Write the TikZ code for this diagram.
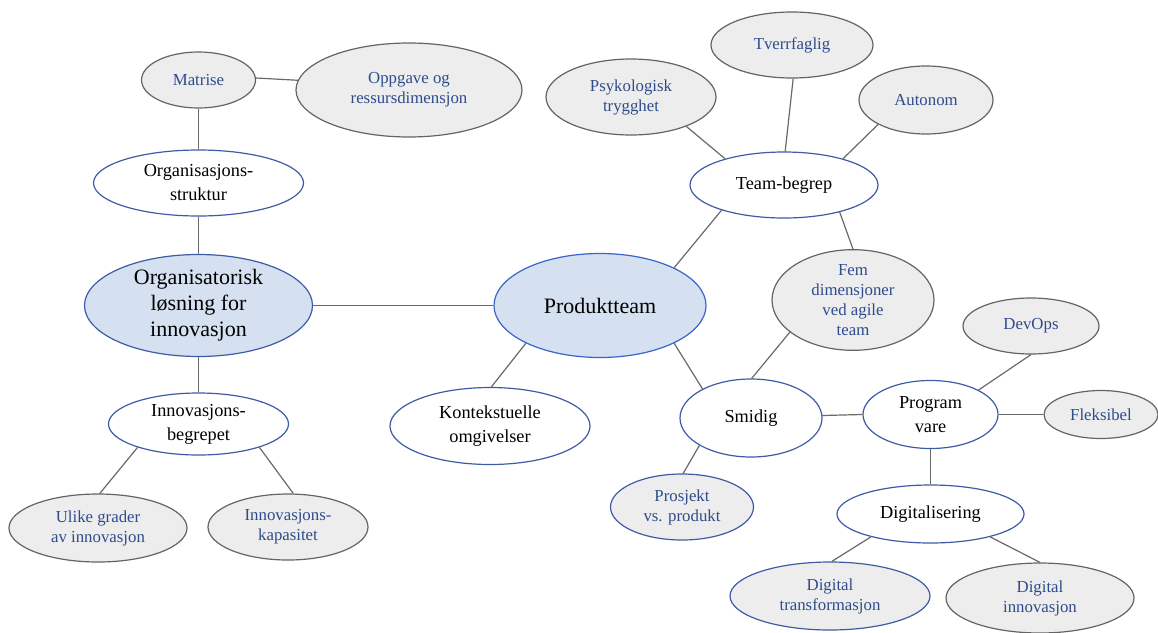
\documentclass[tikz,border=0pt]{standalone}
\usepackage{fontspec}
\setmainfont{Liberation Serif}
\usetikzlibrary{shapes.geometric}
\definecolor{tblue}{RGB}{46,76,140}
\definecolor{bblue}{RGB}{62,92,165}
\definecolor{pblue}{RGB}{58,100,200}
\definecolor{gborder}{RGB}{100,100,100}
\definecolor{gfill}{RGB}{237,237,237}
\definecolor{lblue}{RGB}{213,224,241}
\definecolor{lineg}{RGB}{105,105,105}
\tikzset{
  el/.style={ellipse, inner sep=0pt, align=center, line width=1.2pt},
  mainel/.style={el, draw=bblue, fill=lblue, font=\fontsize{22}{26}\selectfont, text=black},
  whiteel/.style={el, draw=bblue, fill=white, font=\fontsize{18.3}{24}\selectfont, text=black},
  grayel/.style={el, draw=gborder, fill=gfill, font=\fontsize{16.8}{20}\selectfont, text=tblue},
  graybl/.style={grayel, draw=bblue},
  conn/.style={draw=lineg, line width=1.2pt},
  sz/.style 2 args={minimum width=#1pt, minimum height=#2pt}
}
\begin{document}
\begin{tikzpicture}[x=1pt,y=-1pt]
\clip (0,0) rectangle (1158,632);
\fill[white] (0,0) rectangle (1158,632);
% left side
\node[grayel, sz={114}{56}] (matrise) at (198.5,80) {Matrise};
\node[grayel, sz={226}{94}] (oppgave) at (409,90) {Oppgave og\\ressursdimensjon};
\node[whiteel, sz={210}{66}] (orgstr) at (198.5,183) {Organisasjons-\\struktur};
\node[mainel, sz={228}{102}] (orglos) at (198.5,305.5) {Organisatorisk\\løsning for\\innovasjon};
\node[whiteel, sz={180}{62}] (innbeg) at (198.5,424) {Innovasjons-\\begrepet};
\node[grayel, sz={178}{68}] (ulike) at (98,528) {Ulike grader\\av innovasjon};
\node[grayel, sz={160}{66}] (innkap) at (288,527) {Innovasjons-\\kapasitet};
% center
\node[mainel, draw=pblue, sz={212}{104}] (produkt) at (600,305.5) {Produktteam};
\node[whiteel, sz={200}{77}] (kontekst) at (490,426) {Kontekstuelle\\omgivelser};
% team
\node[whiteel, sz={188}{66}] (team) at (784,185) {Team-begrep};
\node[grayel, sz={170}{76}] (psyk) at (631,97) {Psykologisk\\trygghet};
\node[grayel, sz={162}{66}] (tverr) at (792,45) {Tverrfaglig};
\node[grayel, sz={134}{68}] (auto) at (926,100) {Autonom};
\node[grayel, sz={162}{82}] (fem) at (853,300) {Fem\\dimensjoner\\ved agile\\team};
% smidig
\node[whiteel, sz={142}{78}] (smidig) at (751,418) {Smidig};
\node[whiteel, sz={135}{68}] (program) at (930.5,414.5) {Program\\vare};
\node[grayel, sz={136}{56}] (devops) at (1031,326) {DevOps};
\node[grayel, sz={114}{48}] (fleks) at (1101,414.5) {Fleksibel};
\node[graybl, sz={143}{66}] (prosjekt) at (682,507) {Prosjekt\\vs. produkt};
\node[whiteel, sz={187}{58}] (digit) at (930.5,514) {Digitalisering};
\node[graybl, sz={200}{68}] (dtrans) at (830,596) {Digital\\transformasjon};
\node[grayel, sz={188}{70}] (dinn) at (1040,598) {Digital\\innovasjon};
% connectors
\draw[conn] (matrise.2) -- (oppgave.175);
\draw[conn] (matrise) -- (orgstr);
\draw[conn] (orgstr) -- (orglos);
\draw[conn] (orglos) -- (produkt);
\draw[conn] (orglos) -- (innbeg);
\draw[conn] (innbeg.201) -- (ulike.87);
\draw[conn] (innbeg.-21) -- (innkap.81);
\draw[conn] (produkt.207) -- (kontekst.88);
\draw[conn] (produkt.27) -- (team.-158);
\draw[conn] (produkt.-27.5) -- (smidig.149);
\draw[conn] (team.156) -- (psyk.-28);
\draw[conn] (team.88) -- (tverr.-88);
\draw[conn] (team.24) -- (auto.-153);
\draw[conn] (team.-26) -- (fem.90);
\draw[conn] (smidig.89) -- (fem.207);
\draw[conn] (smidig.2) -- (program.180);
\draw[conn] (smidig.208) -- (prosjekt.88);
\draw[conn] (program.27) -- (devops.-90);
\draw[conn] (program) -- (fleks);
\draw[conn] (program) -- (digit);
\draw[conn] (digit.201) -- (dtrans.87);
\draw[conn] (digit.-21) -- (dinn.90);
\end{tikzpicture}
\end{document}
